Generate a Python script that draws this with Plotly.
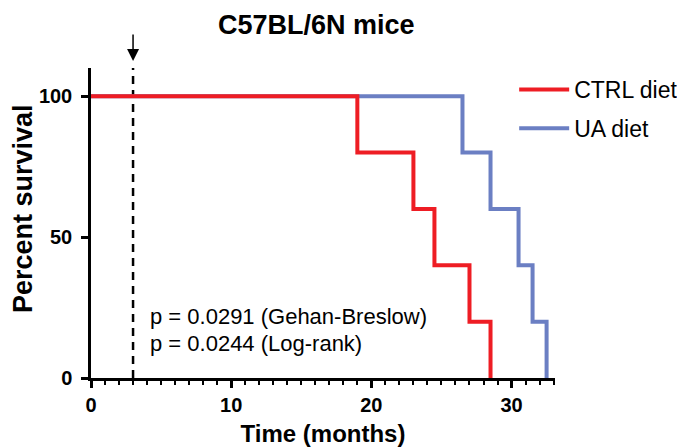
import plotly.graph_objects as go

# Data (Kaplan-Meier steps)
ctrl_time = [0, 19, 23, 24.5, 27, 28.5]
ctrl_surv = [100, 80, 60, 40, 20, 0]
ua_time = [0, 26.5, 28.5, 30.5, 31.5, 32.5]
ua_surv = [100, 80, 60, 40, 20, 0]
x_ticks = [0, 10, 20, 30]
y_ticks = [0, 50, 100]
start_month = 3

FONT = "Liberation Sans, Arial, Helvetica, sans-serif"
RED = "#ee1d24"
BLUE = "#6b7fc3"

fig = go.Figure()
fig.add_trace(go.Scatter(
    x=ua_time, y=ua_surv, mode="lines", name="UA diet",
    line=dict(color=BLUE, width=4, shape="hv"),
    legendrank=2, legendgroup="b",
))
fig.add_trace(go.Scatter(
    x=ctrl_time, y=ctrl_surv, mode="lines", name="CTRL diet",
    line=dict(color=RED, width=4, shape="hv"),
    legendrank=1, legendgroup="a",
))

fig.add_shape(type="line", xref="x", yref="y", x0=start_month, x1=start_month,
              y0=0, y1=110, line=dict(color="black", width=2.5, dash="8px,6px"),
              layer="below")
fig.add_annotation(x=start_month, y=1.0226, xref="x", yref="paper", text="",
                   showarrow=True, arrowhead=2, arrowsize=1.6, arrowwidth=1.5,
                   arrowcolor="black", ax=0, ay=-28)

fig.add_annotation(x=4.1, y=21.7, xref="x", yref="y", xanchor="left", yanchor="middle",
                   text="p = 0.0291 (Gehan-Breslow)", showarrow=False,
                   font=dict(family=FONT, size=22, color="black"))
fig.add_annotation(x=4.1, y=12.4, xref="x", yref="y", xanchor="left", yanchor="middle",
                   text="p = 0.0244 (Log-rank)", showarrow=False,
                   font=dict(family=FONT, size=22, color="black"))

# y-axis title (placed as annotation to match its off-centre position)
fig.add_annotation(x=-0.1466, y=0.548, xref="paper", yref="paper", text="Percent survival",
                   textangle=-90, xanchor="center", yanchor="middle", showarrow=False,
                   font=dict(family=FONT, size=27, color="black", weight="bold"))

fig.update_layout(
    width=685, height=447,
    margin=dict(l=83, r=138, t=60, b=77, autoexpand=False),
    paper_bgcolor="white", plot_bgcolor="white",
    title=dict(text="C57BL/6N mice", x=0.45, xref="container", xanchor="center",
               y=1 - 17 / 447, yref="container", yanchor="middle",
               font=dict(family=FONT, size=27, color="black", weight="bold")),
    legend=dict(x=0.912, xanchor="left", y=1.0, yanchor="top",
                font=dict(family=FONT, size=23, color="black"),
                itemwidth=50, tracegroupgap=6, bgcolor="rgba(0,0,0,0)",
                traceorder="grouped"),
    xaxis=dict(range=[0, 33.1], tickvals=x_ticks, ticks="outside", ticklen=7,
               tickwidth=2.5, tickcolor="black", showline=True, linewidth=2.5,
               linecolor="black", showgrid=False, zeroline=False, automargin=False,
               minor=dict(dtick=1, ticks="outside", ticklen=4, tickwidth=2,
                          tickcolor="black", showgrid=False),
               tickfont=dict(family=FONT, size=20, color="black", weight="bold"),
               title=dict(text="Time (months)", standoff=11,
                          font=dict(family=FONT, size=24, color="black", weight="bold"))),
    yaxis=dict(range=[0, 110], tickvals=y_ticks, ticks="outside", ticklen=7,
               tickwidth=2.5, tickcolor="black", showline=True, linewidth=2.5,
               linecolor="black", showgrid=False, zeroline=False, automargin=False,
               ticklabelstandoff=5,
               tickfont=dict(family=FONT, size=20, color="black", weight="bold")),
)

fig.write_html("out.html")
